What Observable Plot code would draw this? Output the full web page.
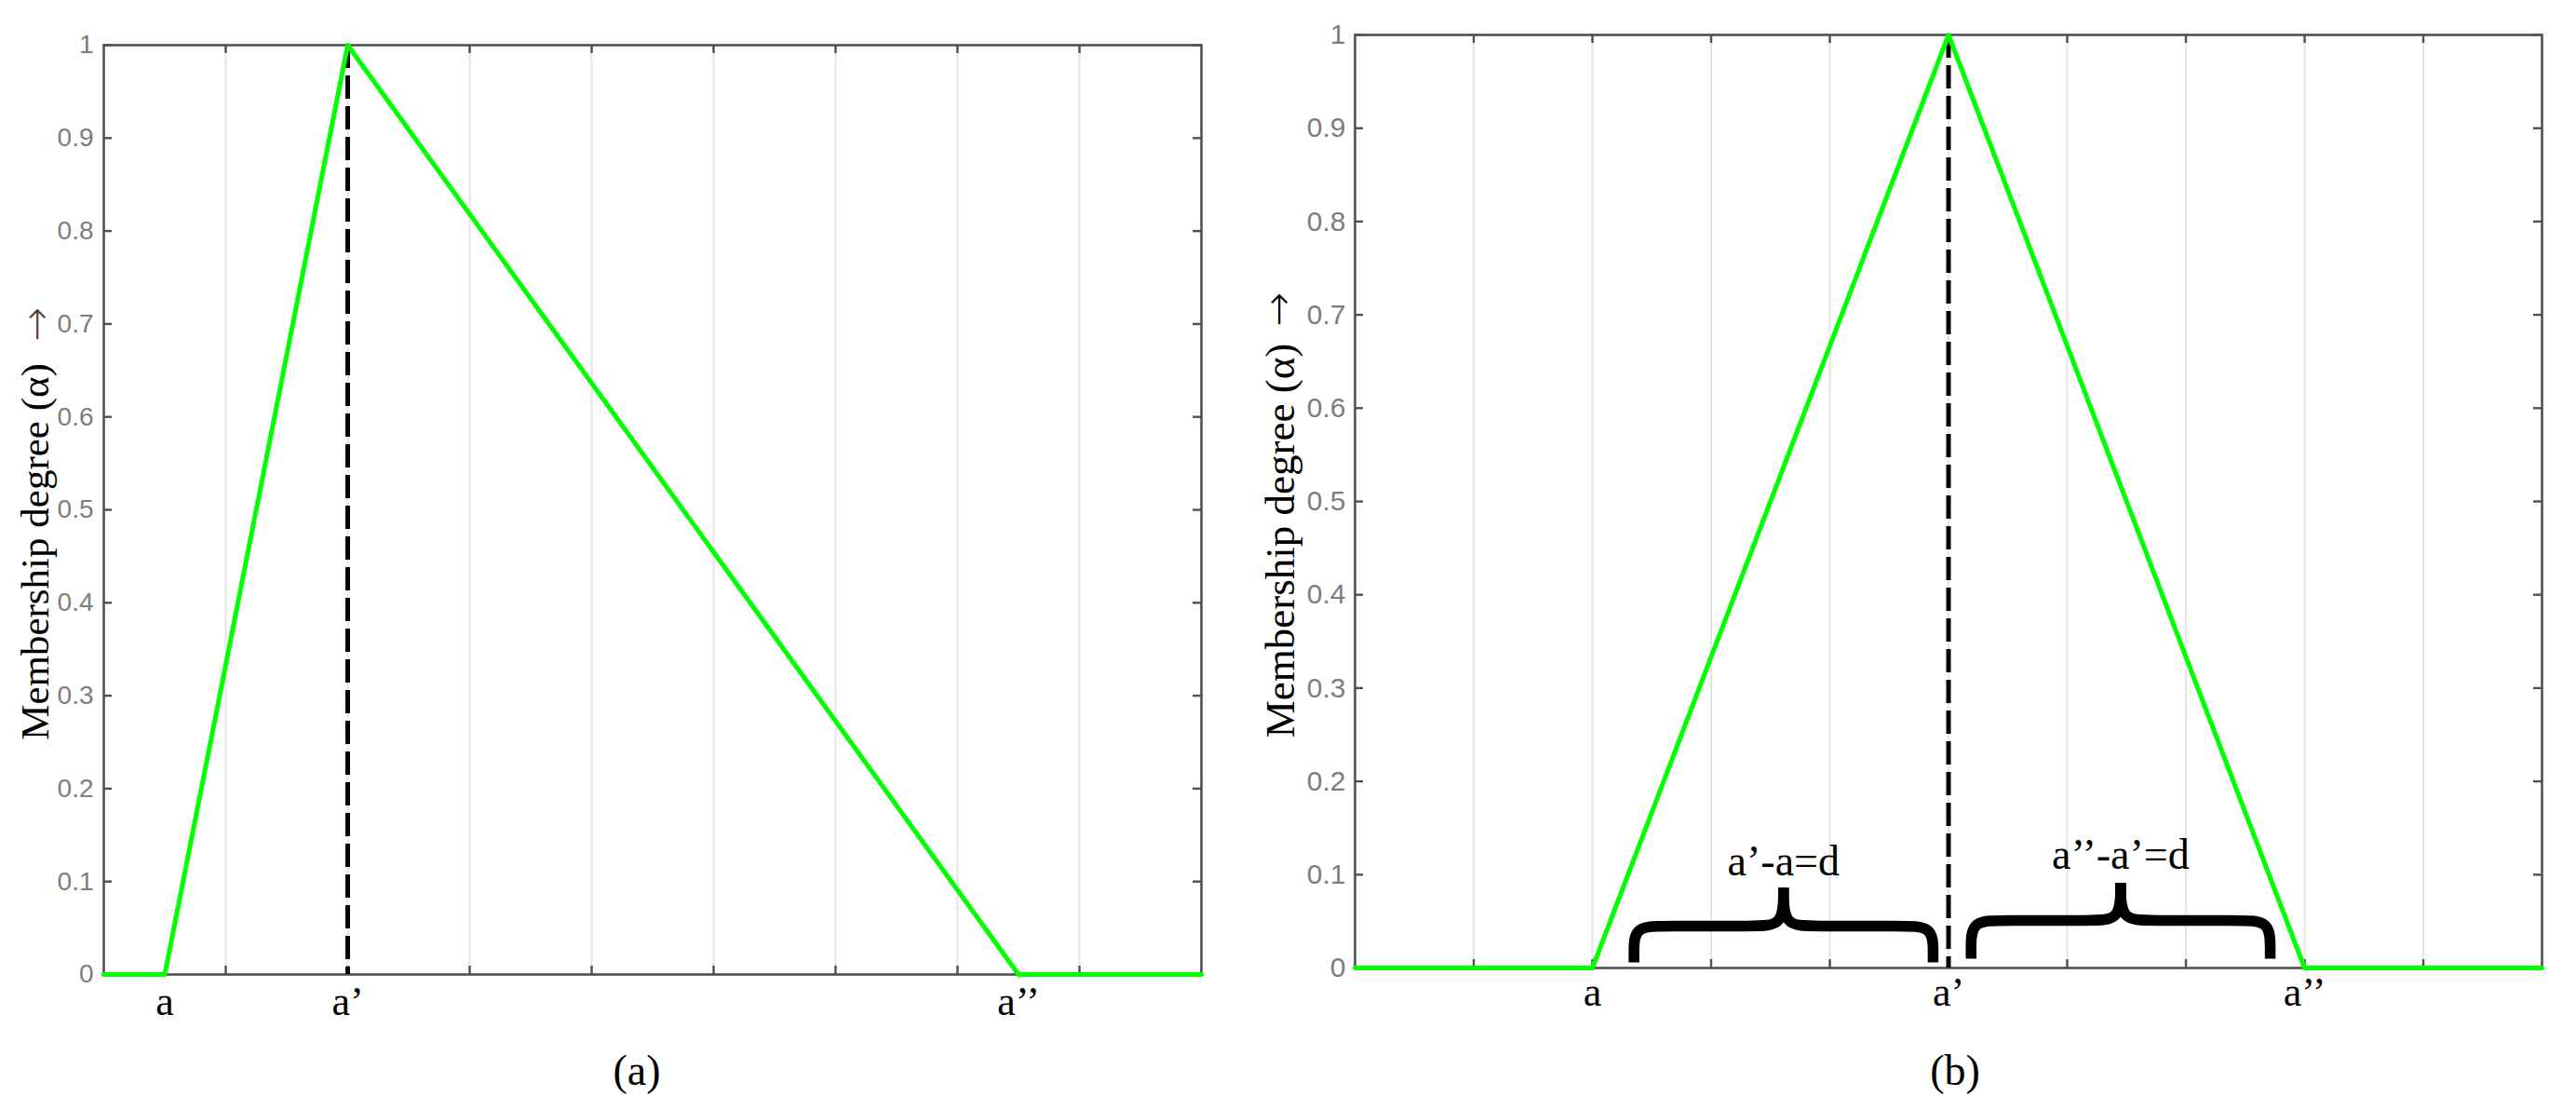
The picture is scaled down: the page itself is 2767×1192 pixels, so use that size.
<!DOCTYPE html>
<html>
<head>
<meta charset="utf-8">
<script src="https://cdn.jsdelivr.net/npm/d3@7"></script>
<script src="https://cdn.jsdelivr.net/npm/@observablehq/plot@0.6"></script>
<style>
html, body { margin: 0; padding: 0; background: #fff; }
#fig { position: relative; width: 2767px; height: 1192px; overflow: hidden; background: #fff; }
#pa { position: absolute; left: 0; top: 0; }
#pb { position: absolute; left: 1300px; top: 0; }
</style>
</head>
<body>
<div id="fig"><div id="pa"></div><div id="pb"></div></div>
<script>
// ---------- data: panel (a) ----------
const xA = [0, 0.5, 2, 7.5, 9];
const muA = [0, 0, 1, 0, 0];
const tickPosA = [0.5, 2, 7.5];
const tickLabA = ["a", "a’", "a’’"];
const gridA = [1, 2, 3, 4, 5, 6, 7, 8];
const peakA = [2];
const captionA = "(a)";

// ---------- data: panel (b) ----------
const xB = [0, 2, 5, 8, 10];
const muB = [0, 0, 1, 0, 0];
const tickPosB = [2, 5, 8];
const tickLabB = ["a", "a’", "a’’"];
const gridB = [1, 2, 3, 4, 5, 6, 7, 8, 9];
const peakB = [5];
const captionB = "(b)";

// braces in panel (b): span start, span end, foot level, arm level, tip level
const braceStart = [2.35, 5.19];
const braceEnd = [4.87, 7.71];
const braceFoot = [0.006, 0.010];
const braceArm = [0.045, 0.051];
const braceTip = [0.086, 0.091];
const braceText = ["a’-a=d", "a’’-a’=d"];
const braceTextY = [0.099, 0.106];

// shared
const yTicks = [0, 0.1, 0.2, 0.3, 0.4, 0.5, 0.6, 0.7, 0.8, 0.9, 1];
const yLabel = "Membership degree (α)";
const yArrow = "→";

const AXIS = "#505050";
const TICKTXT = "#7d7d7d";
const GRID = "#e6e6e6";
const SERIF = "Liberation Serif, Times New Roman, serif";
const SANS = "Liberation Sans, Arial, sans-serif";

function bracePoints() {
  const pts = [];
  braceStart.forEach((x1, k) => {
    const x2 = braceEnd[k], xm = (x1 + x2) / 2, rE = 0.27, rT = 0.24;
    const yE = braceFoot[k], yA = braceArm[k], yT = braceTip[k];
    const L = [[x1, yE], [x1, yE + 0.01], [x1, yA], [x1 + rE, yA], [xm - rT, yA], [xm, yA], [xm, yT]];
    const R = [[x2, yE], [x2, yE + 0.01], [x2, yA], [x2 - rE, yA], [xm + rT, yA], [xm, yA], [xm, yT]];
    L.forEach(([x, y]) => pts.push({x, y, g: k * 2}));
    R.forEach(([x, y]) => pts.push({x, y, g: k * 2 + 1}));
  });
  return pts;
}

function panel(o) {
  const H = 1192;
  const fw = o.width - o.ml - o.mr;
  const fh = H - o.mt - o.mb;
  const marks = [
    Plot.ruleX(o.grid, {x: d => d, stroke: GRID, strokeWidth: 2}),
    Plot.frame({stroke: AXIS, strokeWidth: 2.6}),
    Plot.tickX(o.grid, {x: d => d, insetTop: fh - 9, stroke: AXIS, strokeWidth: 2.4}),
    Plot.tickX(o.grid, {x: d => d, insetBottom: fh - 9, stroke: AXIS, strokeWidth: 2.4}),
    Plot.tickY(yTicks, {y: d => d, insetRight: fw - 9, stroke: AXIS, strokeWidth: 2.4}),
    Plot.tickY(yTicks, {y: d => d, insetLeft: fw - 9, stroke: AXIS, strokeWidth: 2.4}),
    Plot.axisY(yTicks, {anchor: "left", tickSize: 0, tickPadding: o.yPad, tickFormat: d => String(d),
      fontSize: o.yFont, fontFamily: SANS, fill: TICKTXT, label: null}),
    Plot.axisX(o.tickPos, {anchor: "bottom", tickSize: 0, tickPadding: o.xPad,
      tickFormat: (d, i) => o.tickLab[i], fontSize: 44, fontFamily: SERIF, fill: "#000", label: null}),
    Plot.ruleX(o.peak, {x: d => d, y1: 1, y2: 0, stroke: "#000", strokeWidth: 5, strokeDasharray: "25,8"}),
    Plot.line(d3.range(o.xs.length), {x: i => o.xs[i], y: i => o.mus[i], stroke: "#00ff00",
      strokeWidth: 5, strokeLinejoin: "round"}),
    Plot.text([yLabel], {text: d => d, frameAnchor: "left", rotate: -90, dx: o.labDx, dy: o.labDy,
      fontSize: o.labFont, fontFamily: SERIF, fill: "#000", textAnchor: "middle", lineAnchor: "middle"}),
    Plot.text([yArrow], {text: d => d, frameAnchor: "left", rotate: -90, dx: o.arrDx, dy: o.arrDy,
      fontSize: 44, fontWeight: 200, fontFamily: "DejaVu Sans ExtraLight, DejaVu Sans, sans-serif",
      fill: o.arrFill, textAnchor: "middle", lineAnchor: "middle"}),
    Plot.text([o.caption], {text: d => d, frameAnchor: "bottom", dx: o.capDx, dy: o.capDy,
      fontSize: 46, fontFamily: SERIF, fill: "#000", textAnchor: "middle", lineAnchor: "middle"}),
    ...(o.extra || [])
  ];
  return Plot.plot({
    width: o.width, height: H,
    marginLeft: o.ml, marginRight: o.mr, marginTop: o.mt, marginBottom: o.mb,
    x: {domain: o.xDomain},
    y: {domain: [0, 1]},
    style: {background: "transparent", overflow: "visible"},
    marks
  });
}

const bracesMarks = [
  Plot.line(bracePoints(), {x: "x", y: "y", z: "g", curve: "basis", stroke: "#000", strokeWidth: 11.5,
    strokeLinecap: "butt", strokeLinejoin: "round"}),
  Plot.text(d3.range(braceText.length), {x: i => (braceStart[i] + braceEnd[i]) / 2, y: i => braceTextY[i],
    text: i => braceText[i], fontSize: 46, fontFamily: SERIF, fill: "#000", textAnchor: "middle", lineAnchor: "bottom"})
];

document.getElementById("pa").appendChild(panel({
  width: 1300, ml: 111, mr: 10, mt: 48, mb: 146,
  xDomain: [0, 9], xs: xA, mus: muA, grid: gridA, peak: peakA,
  tickPos: tickPosA, tickLab: tickLabA, xPad: 12, yPad: 11, yFont: 28,
  labFont: 43, labDx: -73, labDy: 45, arrDx: -72, arrDy: -199, arrFill: "#5a4030",
  caption: captionA, capDx: -17, capDy: 104
}));

document.getElementById("pb").appendChild(panel({
  width: 1467, ml: 155, mr: 37, mt: 37, mb: 153,
  xDomain: [0, 10], xs: xB, mus: muB, grid: gridB, peak: peakB,
  tickPos: tickPosB, tickLab: tickLabB, xPad: 9, yPad: 10, yFont: 30,
  labFont: 45, labDx: -80, labDy: 42, arrDx: -82, arrDy: -206, arrFill: "#000",
  caption: captionB, capDx: 7, capDy: 111,
  extra: bracesMarks
}));
</script>
</body>
</html>
